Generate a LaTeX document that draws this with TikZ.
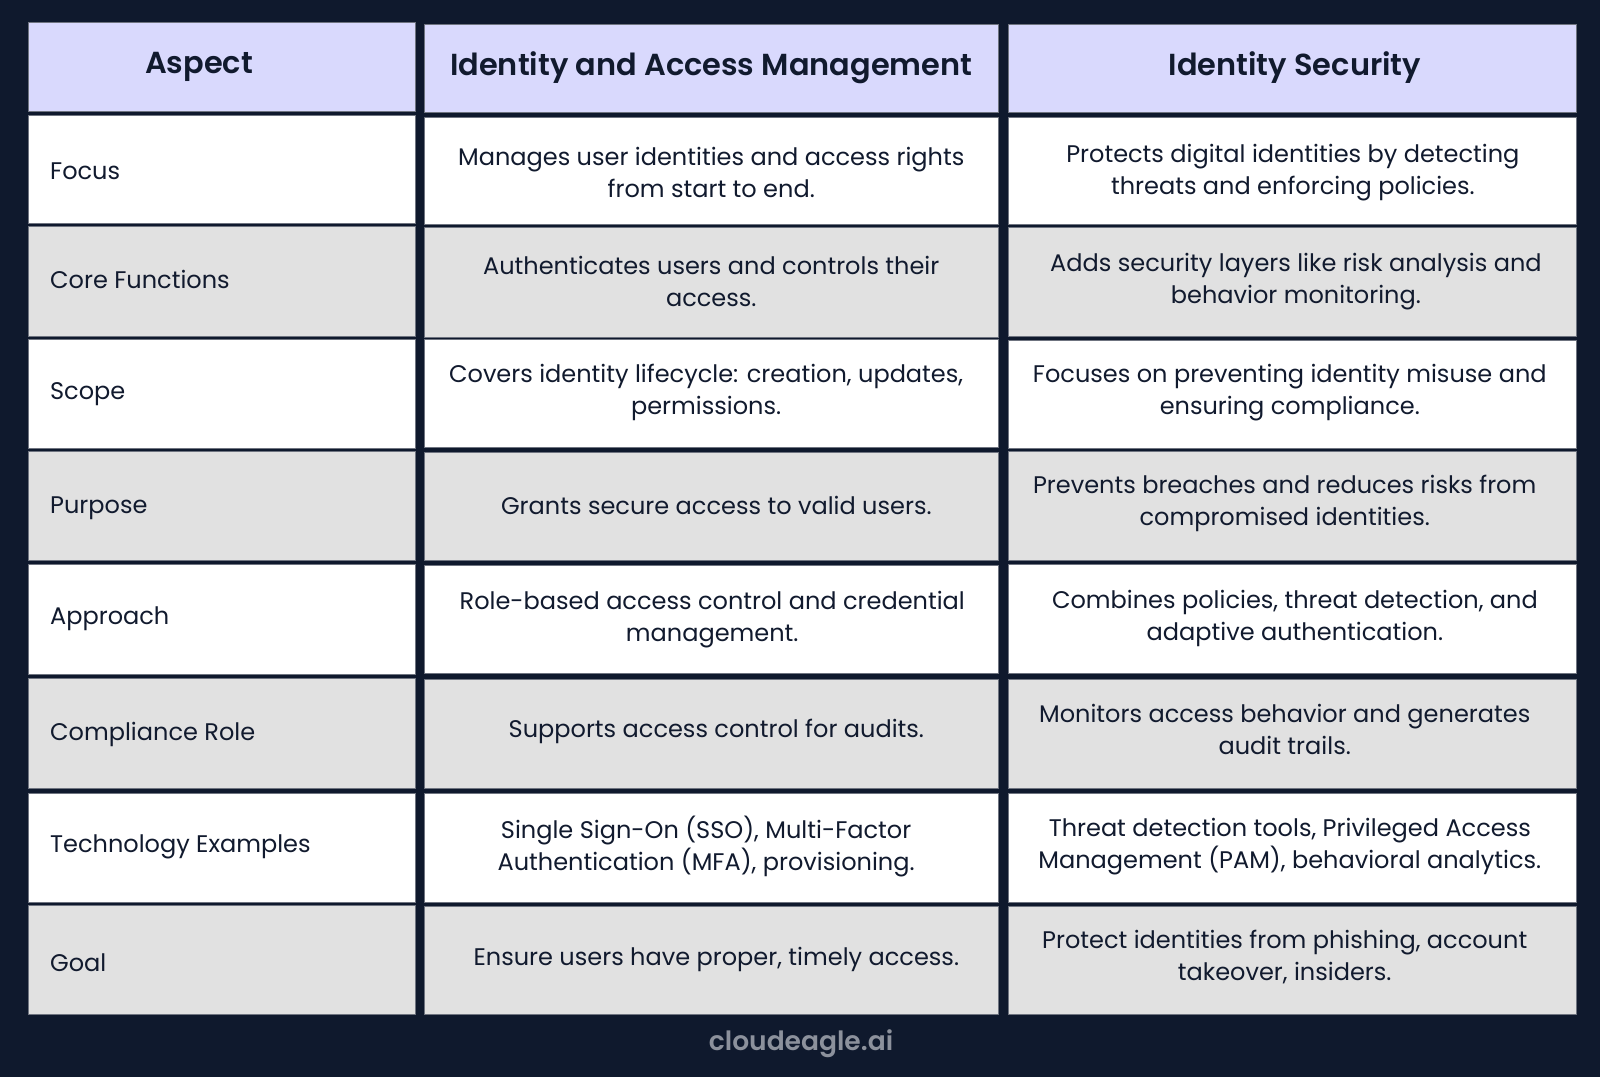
\documentclass[tikz,border=0pt]{standalone}
\usepackage{xcolor}
\usepackage{fontspec}
\setmainfont{Poppins}[BoldFont={Poppins SemiBold}]
\usepackage{tikz}
\definecolor{pagebg}{HTML}{0F192D}
\definecolor{headbg}{HTML}{D9D9FD}
\definecolor{greybg}{HTML}{E1E1E1}
\definecolor{edgeline}{HTML}{6F7480}
\definecolor{inktext}{HTML}{111A2E}
\definecolor{logotext}{HTML}{8C919C}

\begin{document}
\begin{tikzpicture}[
        x=0.05cm, y=-0.05cm,
        cell/.style={rectangle, draw=edgeline, line width=0.5pt, inner sep=0pt, outer sep=0pt, anchor=north west},
        head/.style={cell, fill=headbg},
        plain/.style={cell, fill=white},
        shade/.style={cell, fill=greybg},
        headtext/.style={text=inktext, inner sep=0pt, font=\fontsize{42.4}{48}\selectfont\bfseries},
        bodytext/.style={text=inktext, inner sep=0pt, align=center, font=\fontsize{33.5}{44.5}\selectfont},
        sidetext/.style={bodytext, anchor=west}
    ]
        \useasboundingbox (0,0) rectangle (1568,1055.4);
        \fill[pagebg] (0,0) rectangle (1568,1055.4);

        % first column
        \node[head, minimum width=379*0.05cm, minimum height=87*0.05cm] (aspect) at (28,22) {};
        \foreach \r/\y/\h/\k in {1/113/106/plain, 2/222/107/shade, 3/332/107/plain, 4/442/107/shade, 5/553/108/plain, 6/665/107/shade, 7/777/107/plain, 8/887/107/shade}
            \node[\k, minimum width=379*0.05cm, minimum height=\h*0.05cm] (side\r) at (28,\y) {};

        % second column
        \node[head, minimum width=562*0.05cm, minimum height=86*0.05cm] (iam) at (416,24) {};
        \foreach \r/\y/\h/\k in {1/115/105/plain, 2/223/107/shade, 3/332/106/plain, 4/443/106/shade, 5/554/106/plain, 6/666/106/shade, 7/777/107/plain, 8/888/106/shade}
            \node[\k, minimum width=562*0.05cm, minimum height=\h*0.05cm] (mid\r) at (416,\y) {};

        % third column
        \node[head, minimum width=557*0.05cm, minimum height=86*0.05cm] (sec) at (988,24) {};
        \foreach \r/\y/\h/\k in {1/115/105/plain, 2/223/106/shade, 3/333/106/plain, 4/442/107/shade, 5/553/107/plain, 6/666/106/shade, 7/777/107/plain, 8/888/106/shade}
            \node[\k, minimum width=557*0.05cm, minimum height=\h*0.05cm] (far\r) at (988,\y) {};

        \node[headtext] (aspecttext) at (195,66) {Aspect};
        \node[headtext] (iamtext) at (697,66) {Identity and Access Management};
        \node[headtext] (sectext) at (1269,66) {Identity Security};

        \node[sidetext] (focus) at (49,168) {Focus};
        \node[sidetext] (core) at (49,274) {Core Functions};
        \node[sidetext] (scope) at (49,386) {Scope};
        \node[sidetext] (purpose) at (49,498) {Purpose};
        \node[sidetext] (approach) at (49,606) {Approach};
        \node[sidetext] (role) at (49,720) {Compliance Role};
        \node[sidetext] (tech) at (49,830) {Technology Examples};
        \node[sidetext] (goal) at (49,943) {Goal};

        \node[bodytext] (midfocus) at (697,169) {Manages user identities and access rights\\from start to end.};
        \node[bodytext] (midcore) at (697,276) {Authenticates users and controls their\\access.};
        \node[bodytext] (midscope) at (692,385) {Covers identity lifecycle: creation, updates,\\permissions.};
        \node[bodytext] (midpurpose) at (702,495) {Grants secure access to valid users.};
        \node[bodytext] (midapproach) at (698,607) {Role-based access control and credential\\management.};
        \node[bodytext] (midrole) at (702,717) {Supports access control for audits.};
        \node[bodytext] (midtech) at (692,830) {Single Sign-On (SSO), Multi-Factor\\Authentication (MFA), provisioning.};
        \node[bodytext] (midgoal) at (702,940) {Ensure users have proper, timely access.};

        \node[bodytext] (farfocus) at (1267,169) {Protects digital identities by detecting\\threats and enforcing policies.};
        \node[bodytext] (farcore) at (1270,276) {Adds security layers like risk analysis and\\behavior monitoring.};
        \node[bodytext] (farscope) at (1264,385) {Focuses on preventing identity misuse and\\ensuring compliance.};
        \node[bodytext] (farpurpose) at (1259,493) {Prevents breaches and reduces risks from\\compromised identities.};
        \node[bodytext] (farapproach) at (1269,606) {Combines policies, threat detection, and\\adaptive authentication.};
        \node[bodytext] (farrole) at (1259,715) {Monitors access behavior and generates\\audit trails.};
        \node[bodytext] (fartech) at (1264,830) {Threat detection tools, Privileged Access\\Management (PAM), behavioral analytics.};
        \node[bodytext] (fargoal) at (1259,938) {Protect identities from phishing, account\\takeover, insiders.};

        \node[text=logotext, inner sep=0pt, font=\fontsize{37}{42}\selectfont\bfseries] (logo) at (785,1023) {cloudeagle.ai};
    \end{tikzpicture}
\end{document}
